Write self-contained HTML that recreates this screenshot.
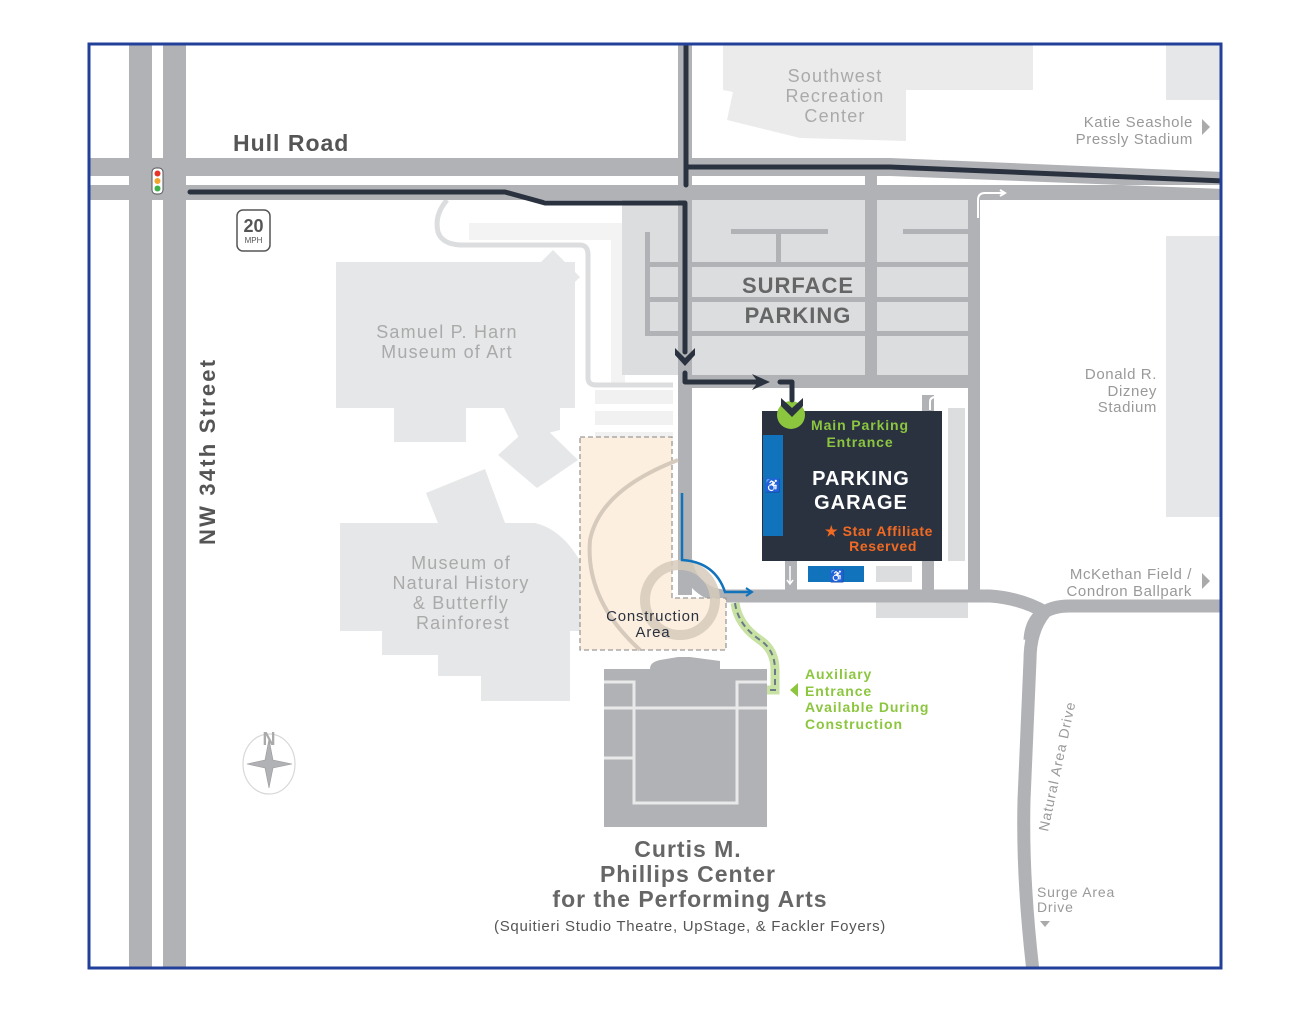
<!DOCTYPE html>
<html><head><meta charset="utf-8"><style>
html,body{margin:0;padding:0;background:#fff;}
svg{display:block;}
text{font-family:"Liberation Sans",sans-serif;}
</style></head><body>
<svg width="1310" height="1012" viewBox="0 0 1310 1012" xmlns="http://www.w3.org/2000/svg">
<rect width="1310" height="1012" fill="#fff"/>
<clipPath id="c"><rect x="89" y="44" width="1132" height="924"/></clipPath>
<g clip-path="url(#c)">
<path d="M723,44 L1033,44 L1033,90 L906,90 L906,141 L800,138 L727,120 L733,92 L723,90Z" fill="#ebebec"/>
<rect x="1166" y="44" width="60" height="56" fill="#e6e7e8"/>
<rect x="1166" y="236" width="60" height="281" fill="#e6e7e8"/>
<rect x="876" y="602" width="92" height="16" fill="#dcdddf"/>
<g fill="#e6e7e8">
<rect x="336" y="262" width="239" height="146"/>
<rect x="394" y="400" width="72" height="42"/>
<path d="M553,250 L580,277 L553,304 L526,277Z"/>
<path d="M537,420 L578,460 L537,488 L498,455Z"/>
<path d="M500,400 L560,400 L560,430 L520,440Z"/>
<path d="M426,493 L485,469 L505,523 L535,523 Q565,530 585,570 L585,631 L570,631 L570,701 L481,701 L481,676 L438,676 L438,655 L382,655 L382,631 L340,631 L340,523 L438,523Z"/>
</g>
<rect x="469" y="223" width="160" height="17" fill="#f3f3f3"/>
<rect x="595" y="390" width="78" height="14" fill="#f1f1f2"/>
<rect x="595" y="411" width="78" height="14" fill="#f1f1f2"/>
<rect x="595" y="432" width="78" height="12" fill="#f1f1f2"/>
<rect x="611" y="223" width="14" height="160" fill="#f3f3f3"/>
<path d="M447,200 Q434,215 438,232 Q442,244 460,245 L580,245 Q588,245 588,255 L588,378 Q588,385 596,385 L673,385" fill="none" stroke="#dcdddf" stroke-width="5"/>
<rect x="622" y="200" width="348" height="175" fill="#dcdddf"/>
<g fill="#b1b2b5">
<rect x="731" y="229" width="97" height="5"/>
<rect x="776" y="229" width="5" height="33"/>
<rect x="903" y="229" width="67" height="5"/>
<rect x="645" y="232" width="5" height="104"/>
<rect x="645" y="262" width="325" height="5"/>
<rect x="645" y="297" width="325" height="5"/>
<rect x="645" y="331" width="325" height="5"/>
<rect x="865" y="175" width="12" height="205"/>
</g>
<g fill="#b1b2b5">
<rect x="129" y="40" width="23" height="940"/>
<rect x="163" y="40" width="23" height="940"/>
<path d="M89,158 L890,158 L1225,172 L1225,200 L89,200Z"/>
<rect x="678" y="40" width="14" height="130"/>
<rect x="678" y="195" width="14" height="400"/>
<rect x="678" y="375" width="302" height="13"/>
<rect x="968" y="195" width="12" height="400"/>
<rect x="922" y="395" width="12" height="195"/>
<rect x="785" y="561" width="12" height="30"/>
</g>
<path d="M89,176 L129,176 L129,185 L89,185Z M152,176 L163,176 L163,185 L152,185Z" fill="#fff"/>
<path d="M186,176 L678,176 L678,185 L186,185Z M692,176 L890,176 L1225,189 L1225,185 L692,185Z" fill="#fff"/>
<rect x="865" y="176" width="12" height="9" fill="#b1b2b5"/>
<path d="M686,560 A40,40 0 0 0 726,596 L990,596 Q1020,598 1045,612 Q1030,630 1030,660 L1024,800 Q1022,880 1034,980" fill="none" stroke="#b1b2b5" stroke-width="13"/>
<path d="M1030,640 Q1032,606 1070,606 L1225,606" fill="none" stroke="#b1b2b5" stroke-width="13"/>
<path d="M978,218 L978,200 Q978,193 985,193 L1003,193" fill="none" stroke="#fff" stroke-width="2"/>
<path d="M1000,190 L1005,193 L1000,196" fill="none" stroke="#fff" stroke-width="2"/>
<path d="M930,410 L930,402 Q930,397 936,397 L965,397" fill="none" stroke="#fff" stroke-width="2"/>
<path d="M790,566 L790,583 M787,580 L790,584 L793,580" fill="none" stroke="#fff" stroke-width="1.5"/>
<path d="M580,437 L672,437 L672,598 L726,598 L726,650 L580,650Z" fill="#fdefdf" stroke="#9a9a9a" stroke-width="1.3" stroke-dasharray="5,3"/>
<path d="M678,460 Q600,490 590,540 Q585,600 640,650" fill="none" stroke="#d6cabc" stroke-width="4"/>
<circle cx="680" cy="600" r="35" fill="none" stroke="#d6cabc" stroke-width="10" opacity="0.85"/>
<rect x="948" y="408" width="17" height="153" fill="#dcdddf"/>
<rect x="762" y="411" width="180" height="150" fill="#2a3240"/>
<rect x="763" y="435" width="20" height="101" fill="#1173bb"/>
<text x="773" y="490" font-size="13" fill="#fff" text-anchor="middle">♿</text>
<rect x="808" y="566" width="56" height="16" fill="#1173bb"/>
<text x="837" y="580" font-size="12" fill="#fff" text-anchor="middle">♿</text>
<rect x="876" y="566" width="36" height="16" fill="#dcdddf"/>
<circle cx="791" cy="415" r="14" fill="#8cc63f"/>
<rect x="604" y="669" width="163" height="158" fill="#b1b2b5"/>
<path d="M650,669 Q650,662 660,660 L678,657 L690,657 L720,661 Q720,664 720,669Z" fill="#b1b2b5"/>
<g fill="none" stroke="#e9e9ea" stroke-width="3">
<path d="M604,682 L634,682 L634,803 L737,803 L737,682 L767,682"/>
<path d="M604,708 L767,708"/>
<path d="M604,758 L634,758"/>
</g>
<path d="M735,603 Q738,625 760,640 Q775,650 775,670 L775,690 L767,690" fill="none" stroke="#c8e2a4" stroke-width="9"/>
<path d="M735,603 Q738,625 760,640 Q775,650 775,670 L775,690 L767,690" fill="none" stroke="#6b7a86" stroke-width="2" stroke-dasharray="6,4"/>
<path d="M798,683 L790,690 L798,697Z" fill="#8cc63f"/>
<path d="M682,493 L682,560 Q715,562 725,592 L750,592" fill="none" stroke="#1173bb" stroke-width="2.5"/>
<path d="M746,588 L752,592 L746,596" fill="none" stroke="#1173bb" stroke-width="2"/>
<g fill="none" stroke="#2a3240" stroke-width="5" stroke-linecap="round" stroke-linejoin="round">
<path d="M686,44 L686,183"/>
<path d="M686,185 L686,167 L890,167 L1225,181"/>
<path d="M190,192 L505,192 L545,203 L685,203 L685,352"/>
<path d="M685,373 L685,382 L760,382"/>
<path d="M780,382 L792,382 L792,400"/>
</g>
<path d="M675,348 L685,358 L695,348 L695,355 L685,366 L675,355Z" fill="#2a3240"/>
<path d="M752,374 L770,382 L752,390 L758,382Z" fill="#2a3240"/>
<path d="M781,398 L792,408 L803,398 L803,406 L792,417 L781,406Z" fill="#2a3240"/>
<rect x="152" y="168" width="11" height="26" rx="4" fill="#fff" stroke="#555" stroke-width="1"/>
<circle cx="157.5" cy="173.5" r="3" fill="#e8352b"/>
<circle cx="157.5" cy="181" r="3" fill="#f2a32c"/>
<circle cx="157.5" cy="188.5" r="3" fill="#3fb04a"/>
<rect x="237" y="210" width="33" height="41" rx="6" fill="#fff" stroke="#555" stroke-width="1.5"/>
<text x="253.5" y="232" font-size="18" font-weight="bold" fill="#555" text-anchor="middle">20</text>
<text x="253.5" y="243" font-size="8" fill="#555" text-anchor="middle">MPH</text>
<ellipse cx="269" cy="764" rx="26" ry="30" fill="none" stroke="#d8d8d8" stroke-width="1.2"/>
<path d="M269,739 L273,760 L292,764 L273,768 L269,788 L265,768 L247,764 L265,760Z" fill="#b1b2b5" stroke="#999" stroke-width="0.6"/>
<text x="269" y="745" font-size="18" font-weight="bold" fill="#aaa" text-anchor="middle">N</text>
</g>
<rect x="89" y="44" width="1132" height="924" fill="none" stroke="#22409a" stroke-width="3"/>
<text x="233" y="151" font-size="23" fill="#555" font-weight="bold" letter-spacing="1">Hull Road</text>
<text transform="translate(215,545) rotate(-90)" font-size="22" fill="#555" font-weight="bold" letter-spacing="2.2">NW 34th Street</text>
<g font-size="18" fill="#aaa" text-anchor="middle" letter-spacing="1.2">
<text x="835" y="82">Southwest</text><text x="835" y="102">Recreation</text><text x="835" y="122">Center</text>
<text x="447" y="338">Samuel P. Harn</text><text x="447" y="358">Museum of Art</text>
<text x="461" y="569">Museum of</text><text x="461" y="589">Natural History</text><text x="461" y="609">&amp; Butterfly</text><text x="463" y="629">Rainforest</text>
</g>
<g font-size="15" fill="#999" text-anchor="end" letter-spacing="0.6">
<text x="1193" y="127">Katie Seashole</text><text x="1193" y="144">Pressly Stadium</text>
<text x="1157" y="379">Donald R.</text><text x="1157" y="396">Dizney</text><text x="1157" y="412">Stadium</text>
<text x="1192" y="579">McKethan Field /</text><text x="1192" y="596">Condron Ballpark</text>
</g>
<path d="M1202,119 L1210,127 L1202,135Z M1202,573 L1210,581 L1202,589Z" fill="#aaa"/>
<text x="1037" y="897" font-size="14" fill="#999" letter-spacing="0.8">Surge Area</text>
<text x="1037" y="912" font-size="14" fill="#999" letter-spacing="0.8">Drive</text>
<path d="M1040,921 L1050,921 L1045,927Z" fill="#aaa"/>
<text transform="translate(1048,832) rotate(-78)" font-size="14" fill="#999" letter-spacing="1">Natural Area Drive</text>
<g font-size="22" fill="#666" text-anchor="middle" font-weight="bold" letter-spacing="1">
<text x="798" y="293">SURFACE</text><text x="798" y="323">PARKING</text>
</g>
<g font-size="14" fill="#8cc63f" font-weight="bold" text-anchor="middle" letter-spacing="0.9">
<text x="860" y="430">Main Parking</text><text x="860" y="447">Entrance</text>
</g>
<g font-size="20" fill="#fff" text-anchor="middle" font-weight="bold" letter-spacing="1">
<text x="861" y="485">PARKING</text><text x="861" y="509">GARAGE</text>
</g>
<g font-size="14" fill="#f26a21" font-weight="bold" text-anchor="end" letter-spacing="0.6">
<text x="933" y="536">★ Star Affiliate</text><text x="917" y="551">Reserved</text>
</g>
<g font-size="15" fill="#2a3240" text-anchor="middle" letter-spacing="0.8">
<text x="653" y="621">Construction</text><text x="653" y="637">Area</text>
</g>
<g font-size="14" fill="#8cc63f" font-weight="bold" letter-spacing="0.9">
<text x="805" y="679">Auxiliary</text><text x="805" y="696">Entrance</text><text x="805" y="712">Available During</text><text x="805" y="729">Construction</text>
</g>
<g font-size="23" fill="#666" text-anchor="middle" font-weight="bold" letter-spacing="1">
<text x="688" y="857">Curtis M.</text><text x="688" y="882">Phillips Center</text><text x="690" y="907">for the Performing Arts</text>
</g>
<text x="690" y="931" font-size="15" fill="#555" text-anchor="middle" letter-spacing="0.7">(Squitieri Studio Theatre, UpStage, &amp; Fackler Foyers)</text>
</svg>
</body></html>
